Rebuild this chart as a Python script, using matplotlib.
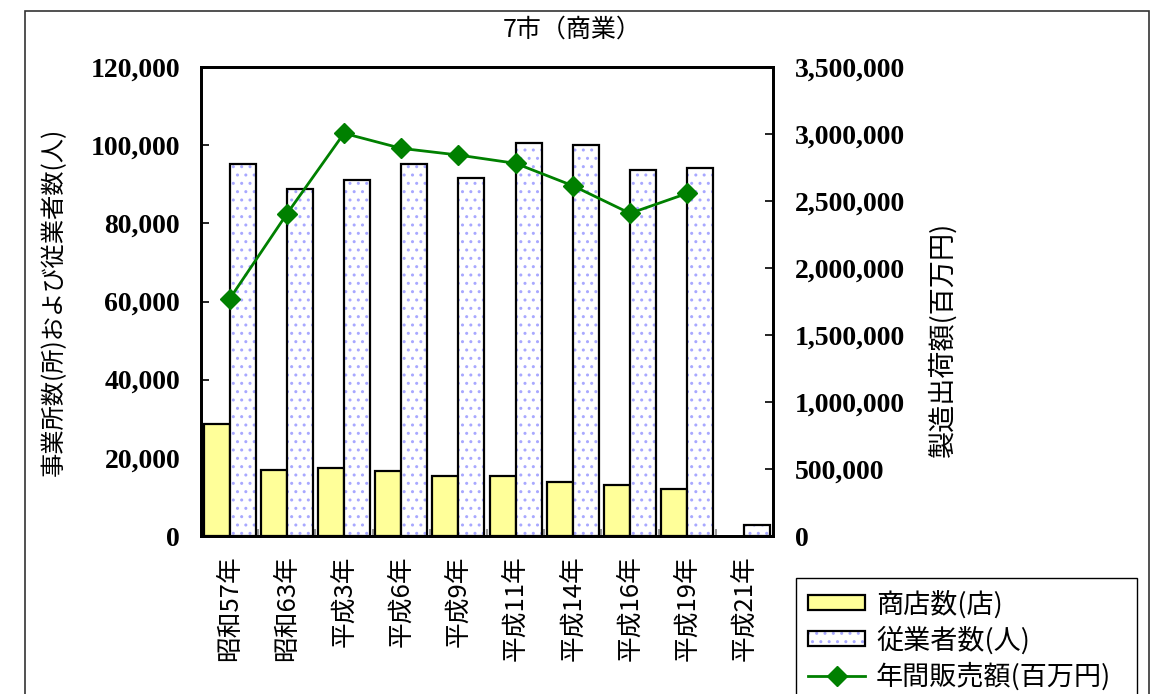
import numpy as np
import matplotlib.pyplot as plt
from matplotlib.patches import Rectangle

plt.rcParams['font.family'] = ['Noto Sans CJK JP', 'DejaVu Sans']
plt.rcParams['hatch.linewidth'] = 1.0

# data
years = ['昭和57年', '昭和63年', '平成3年', '平成6年', '平成9年',
         '平成11年', '平成14年', '平成16年', '平成19年', '平成21年']
shops = [28600, 16800, 17500, 16700, 15400, 15300, 13800, 13050, 12100, np.nan]
workers = [95100, 88900, 91000, 95100, 91500, 100500, 100050, 93650, 94200, 2700]
sales = [1769000, 2403000, 3005000, 2893000, 2843000, 2781000, 2614000, 2408000, 2557000, np.nan]

W, H = 1157, 694
fig = plt.figure(figsize=(W / 100, H / 100), dpi=100)
ax = fig.add_axes([201 / W, 1 - 536 / H, 572 / W, 469 / H])
ax2 = ax.twinx()

x = np.arange(len(years))
bw = 0.455
b1 = ax.bar(x - bw / 2, shops, bw, color='#FFFF99', edgecolor='black', linewidth=1.6, zorder=2)
b2h = ax.bar(x + bw / 2, workers, bw, color='white', edgecolor='#A8A8FF', linewidth=0,
             hatch='..', zorder=2)
b2 = ax.bar(x + bw / 2, workers, bw, fill=False, edgecolor='black', linewidth=1.6, zorder=3)

ln, = ax2.plot(x, sales, color='#008000', linewidth=2, marker='D', markersize=10.5)

ax.set_xlim(-0.5, len(years) - 0.5)
ax.set_ylim(0, 120000)
ax2.set_ylim(0, 3500000)
ax.set_yticks(np.arange(0, 120001, 20000))
ax2.set_yticks(np.arange(0, 3500001, 500000))

tick_font = dict(family='Liberation Serif', weight='bold', size=20)
ax.set_yticklabels([f'{v:,}' for v in np.arange(0, 120001, 20000)], **tick_font)
ax2.set_yticklabels([f'{v:,}' for v in np.arange(0, 3500001, 500000)], **tick_font)
ax.tick_params(axis='y', direction='in', length=6, width=1.2, pad=15)
ax2.tick_params(axis='y', direction='in', length=6, width=1.2, pad=16)

ax.set_xticks(np.arange(0.5, len(years) - 0.5, 1))
ax.set_xticklabels([])
ax.tick_params(axis='x', which='major', direction='in', length=5, width=1.2, color='#888888')
ax.set_xticks(x, minor=True)
ax.set_xticklabels(years, minor=True, rotation=90, fontsize=18.5, va='top')
ax.tick_params(axis='x', which='minor', length=0, pad=14)

for a in (ax, ax2):
    for s in a.spines.values():
        s.set_linewidth(2)

fig.text(572 / W, 1 - 30 / H, '7市（商業）', ha='center', va='center', fontsize=18)
fig.text(54 / W, 1 - 302 / H, '事業所数(所)および従業者数(人)', rotation=90,
         ha='center', va='center', fontsize=17.5)
fig.text(943 / W, 1 - 339 / H, '製造出荷額(百万円)', rotation=90,
         ha='center', va='center', fontsize=19.5)

leg = fig.legend([b1, (b2h, b2), ln], ['商店数(店)', '従業者数(人)', '年間販売額(百万円)'],
                 loc='upper left', bbox_to_anchor=(796 / W, 0, (1137 - 796) / W, 1 - 578 / H),
                 mode='expand', fontsize=19.5, frameon=True, fancybox=False, edgecolor='black',
                 framealpha=1, handlelength=2.1, handleheight=0.48, handletextpad=0.4,
                 labelspacing=0.28, borderpad=0.45, borderaxespad=0)
leg.get_frame().set_linewidth(1.0)

fig.patches.append(Rectangle((25 / W, -0.1), (1149 - 25) / W, 1 - 11 / H + 0.1,
                             transform=fig.transFigure, fill=False, edgecolor='#333333',
                             linewidth=1.2))

fig.savefig('out.png', dpi=100)
